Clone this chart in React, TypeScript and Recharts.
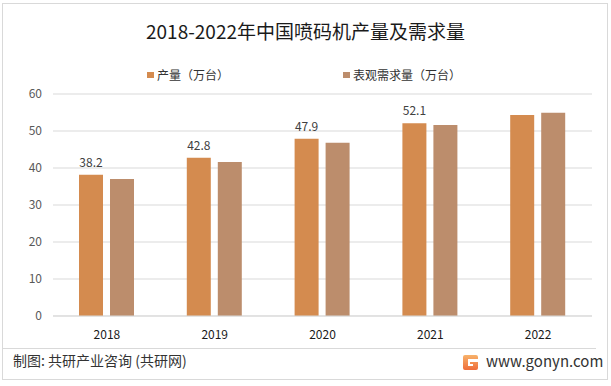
import { BarChart, Bar, XAxis, YAxis, CartesianGrid, LabelList } from 'recharts'

const years = ['2018', '2019', '2020', '2021', '2022']
const output = [38.2, 42.8, 47.9, 52.1, 54.3]
const demand = [37.0, 41.6, 46.8, 51.6, 54.9]
const outputLabels = ['38.2', '42.8', '47.9', '52.1', '']
const yTicks = [0, 10, 20, 30, 40, 50, 60]

const data = years.map((y, i) => ({ year: y, output: output[i], demand: demand[i], label: outputLabels[i] }))

const font = "'Noto Sans CJK SC', 'Noto Sans', sans-serif"
const orange = '#D48B4F'
const tan = '#BC8D6C'

function Logo() {
  return (
    <svg width={15} height={15} viewBox="0 0 15 15" style={{ position: 'absolute', left: 463, top: 355 }}>
      <defs>
        <linearGradient id="lg" x1="0" y1="0" x2="0" y2="1">
          <stop offset="0%" stopColor="#f7b26a" />
          <stop offset="100%" stopColor="#ef6d3a" />
        </linearGradient>
      </defs>
      <path d="M2 0 H13 Q15 0 15 2 V4 H5 V11 H10 V9 H7 V7 H15 V13 Q15 15 13 15 H2 Q0 15 0 13 V2 Q0 0 2 0 Z" fill="url(#lg)" />
    </svg>
  )
}

export default function App() {
  return (
    <div style={{ position: 'absolute', left: 0, top: 0, width: 611, height: 386, background: '#fff', fontFamily: font }}>
      <div style={{ position: 'absolute', left: 2, top: 3, width: 604, height: 375, border: '1px solid #d9d9d9' }} />
      <div style={{ position: 'absolute', left: 0, top: 18, width: 611, textAlign: 'center', fontSize: 19, color: '#1a1a1a', lineHeight: '26px' }}>
        2018-2022年中国喷码机产量及需求量
      </div>
      <div style={{ position: 'absolute', left: 147, top: 72, width: 7, height: 6, background: orange }} />
      <div style={{ position: 'absolute', left: 157, top: 66, fontSize: 12, color: '#333', lineHeight: '18px', whiteSpace: 'nowrap' }}>产量（万台）</div>
      <div style={{ position: 'absolute', left: 343, top: 72, width: 7, height: 6, background: tan }} />
      <div style={{ position: 'absolute', left: 353, top: 66, fontSize: 12, color: '#333', lineHeight: '18px', whiteSpace: 'nowrap' }}>表观需求量（万台）</div>
      <div style={{ position: 'absolute', left: 0, top: 0 }}>
        <BarChart width={611} height={386} data={data} margin={{ top: 94, right: 19, bottom: 40, left: 13 }} barGap={7}>
          <CartesianGrid vertical={false} stroke="#d9d9d9" />
          <XAxis dataKey="year" height={30} tickLine={false} axisLine={{ stroke: '#d9d9d9' }} tickMargin={8}
            tick={{ fill: '#1a1a1a', fontSize: 12, fontFamily: font }} />
          <YAxis width={40} domain={[0, 60]} ticks={yTicks} tickLine={false} axisLine={false} tickMargin={5}
            tick={{ fill: '#595959', fontSize: 12, fontFamily: font }} />
          <Bar dataKey="output" fill={orange} barSize={24} isAnimationActive={false}>
            <LabelList dataKey="label" position="top" offset={8} style={{ fill: '#404040', fontSize: 12, fontFamily: font }} />
          </Bar>
          <Bar dataKey="demand" fill={tan} barSize={24} isAnimationActive={false} />
        </BarChart>
      </div>
      <div style={{ position: 'absolute', left: 3, top: 348, width: 593, height: 1, background: '#d9d9d9' }} />
      <div style={{ position: 'absolute', left: 13, top: 350, fontSize: 14, color: '#333', lineHeight: '20px', whiteSpace: 'nowrap' }}>
        制图: 共研产业咨询 (共研网)
      </div>
      <Logo />
      <div style={{ position: 'absolute', left: 486, top: 351, fontSize: 15, color: '#333', lineHeight: '20px', whiteSpace: 'nowrap' }}>
        www.gonyn.com
      </div>
    </div>
  )
}
